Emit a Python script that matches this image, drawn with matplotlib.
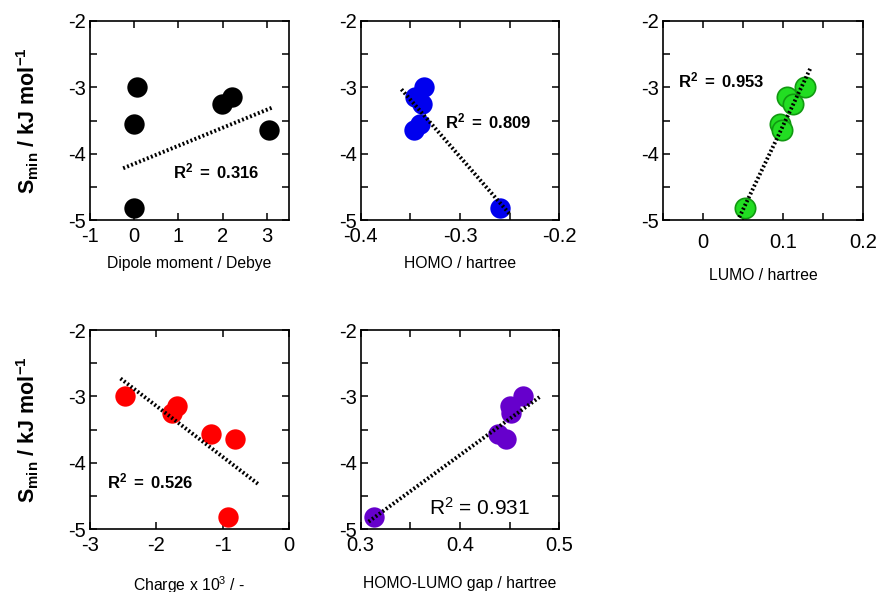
#!/usr/bin/env python3
import matplotlib
matplotlib.use('Agg')
import matplotlib.pyplot as plt
from matplotlib.ticker import MultipleLocator, FormatStrFormatter

plt.rcParams['font.family'] = ['Liberation Sans', 'DejaVu Sans']
plt.rcParams['mathtext.fontset'] = 'custom'
plt.rcParams['mathtext.rm'] = 'Liberation Sans'
plt.rcParams['mathtext.it'] = 'Liberation Sans'
plt.rcParams['mathtext.bf'] = 'Liberation Sans:bold'
plt.rcParams['axes.unicode_minus'] = False

# S_min values (kJ/mol), same six compounds in every panel
s_min = [-3.00, -3.14, -3.25, -3.56, -3.64, -4.82]

dipole = [0.07, 2.22, 1.98, 0.00, 3.05, 0.00]
homo = [-0.336, -0.345, -0.338, -0.340, -0.346, -0.260]
lumo = [0.127, 0.105, 0.112, 0.096, 0.099, 0.052]
charge = [-2.47, -1.69, -1.77, -1.17, -0.81, -0.92]
gap = [0.463, 0.450, 0.451, 0.438, 0.446, 0.313]

# fitted trend lines as drawn (end points)
fit_dipole = ([-0.25, 3.14], [-4.22, -3.30])
fit_homo = ([-0.359, -0.250], [-3.03, -4.91])
fit_lumo = ([0.045, 0.134], [-4.96, -2.71])
fit_charge = ([-2.54, -0.45], [-2.73, -4.33])
fit_gap = ([0.308, 0.480], [-4.885, -3.01])

r2_text = ['0.316', '0.809', '0.953', '0.526', '0.931']

fig = plt.figure(figsize=(8.78, 5.92), dpi=100)
W, H = 878.0, 592.0


def make_ax(x0, y0, w, h):
    return fig.add_axes([x0 / W, 1 - (y0 + h) / H, w / W, h / H])


def style(ax, xlim, xmajor, xminor, ylabel=False):
    ax.set_xlim(*xlim)
    ax.set_ylim(-5, -2)
    ax.xaxis.set_major_locator(MultipleLocator(xmajor))
    ax.xaxis.set_minor_locator(MultipleLocator(xminor))
    ax.xaxis.set_major_formatter(FormatStrFormatter('%g'))
    ax.yaxis.set_major_locator(MultipleLocator(1))
    ax.yaxis.set_minor_locator(MultipleLocator(0.5))
    ax.yaxis.set_major_formatter(FormatStrFormatter('%g'))
    ax.tick_params(which='both', direction='in', top=True, right=True,
                   width=1.1, length=5, labelsize=14.5)
    ax.tick_params(axis='x', pad=5)
    ax.tick_params(axis='y', pad=3)
    for sp in ax.spines.values():
        sp.set_linewidth(1.2)
    if ylabel:
        ax.set_ylabel(r'$\mathbf{S_{min}}$ $\mathbf{/\ kJ\ mol^{-1}}$',
                      fontsize=15.5)
        ax.yaxis.set_label_coords(-0.245, 0.5)


def draw(ax, x, fit, color, edge):
    ax.plot(fit[0], fit[1], color='black', lw=2.8,
            linestyle=(0, (0.5, 0.6)), zorder=3)
    ax.scatter(x, s_min, s=215, color=color, edgecolors=edge,
               linewidths=1.2 if edge != color else 0, zorder=2)


lbl_kw = dict(fontsize=11.3)

ax1 = make_ax(90, 21, 199, 199)
draw(ax1, dipole, fit_dipole, 'black', 'black')
style(ax1, (-1, 3.5), 1, 1, ylabel=True)
ax1.set_xlabel('Dipole moment / Debye', **lbl_kw)
ax1.xaxis.set_label_coords(0.5, -0.18)
ax1.text(0.87, -4.27, r'$\mathbf{R^2\ =\ ' + r2_text[0] + '}$', fontsize=12,
         va='center')

ax2 = make_ax(360.7, 21, 198.6, 199)
draw(ax2, homo, fit_homo, '#0000ee', '#0000ee')
style(ax2, (-0.4, -0.2), 0.1, 0.05)
ax2.set_xlabel('HOMO / hartree', **lbl_kw)
ax2.xaxis.set_label_coords(0.5, -0.18)
ax2.text(-0.315, -3.52, r'$\mathbf{R^2\ =\ ' + r2_text[1] + '}$', fontsize=12,
         va='center')

ax3 = make_ax(663.3, 21, 200, 199)
draw(ax3, lumo, fit_lumo, '#22dd22', '#119911')
style(ax3, (-0.05, 0.2), 0.1, 0.05)
ax3.tick_params(axis='x', pad=9)
ax3.set_xlabel('LUMO / hartree', **lbl_kw)
ax3.xaxis.set_label_coords(0.5, -0.24)
ax3.text(-0.031, -2.89, r'$\mathbf{R^2\ =\ ' + r2_text[2] + '}$', fontsize=12,
         va='center')

ax4 = make_ax(90, 330, 199, 199.3)
draw(ax4, charge, fit_charge, '#ff0000', '#ff0000')
style(ax4, (-3, 0), 1, 1, ylabel=True)
ax4.set_xlabel(r'Charge x 10$^3$ / -', **lbl_kw)
ax4.xaxis.set_label_coords(0.5, -0.228)
ax4.text(-2.74, -4.28, r'$\mathbf{R^2\ =\ ' + r2_text[3] + '}$', fontsize=12,
         va='center')

ax5 = make_ax(360.7, 330, 198.6, 199.3)
draw(ax5, gap, fit_gap, '#6600cc', '#6600cc')
style(ax5, (0.3, 0.5), 0.1, 0.05)
ax5.set_xlabel('HOMO-LUMO gap / hartree', **lbl_kw)
ax5.xaxis.set_label_coords(0.5, -0.235)
ax5.text(0.369, -4.68, r'R$^2$ = ' + r2_text[4], fontsize=15, va='center')

fig.savefig('out.png', dpi=100)
